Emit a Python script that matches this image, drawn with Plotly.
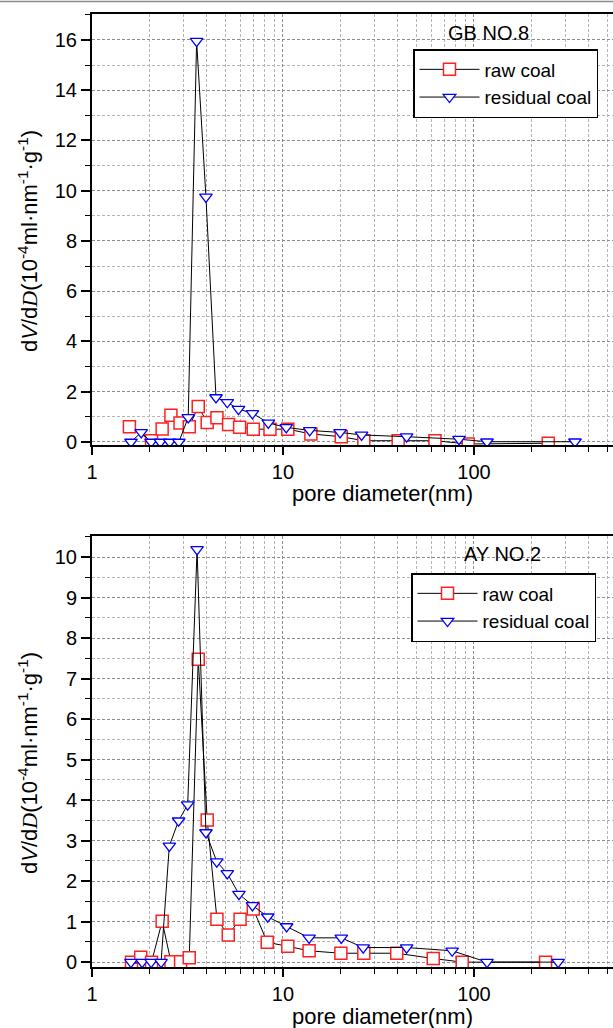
import plotly.graph_objects as go

# GB NO.8 (top panel)
gb_raw_d = [1.57, 2.05, 2.33, 2.59, 2.89, 3.23, 3.60, 4.01, 4.51, 5.19, 5.93, 6.99, 8.55, 10.6,
            14.0, 20.2, 26.5, 40.1, 62.5, 93.3, 245]
gb_raw_v = [0.61, 0.05, 0.52, 1.06, 0.76, 0.61, 1.41, 0.78, 0.96, 0.70, 0.59, 0.51, 0.51, 0.51,
            0.32, 0.21, 0.05, 0.05, 0.05, -0.08, -0.05]
gb_res_d = [1.60, 1.81, 2.04, 2.28, 2.55, 2.85, 3.19, 3.53, 3.95, 4.46, 5.11, 5.85, 6.92, 8.38,
            10.4, 13.8, 19.9, 25.8, 44.4, 83.5, 117, 338]
gb_res_v = [0.0, 0.38, 0.0, 0.0, 0.0, 0.0, 0.98, 15.95, 9.75, 1.77, 1.58, 1.31, 1.14, 0.76,
            0.58, 0.46, 0.38, 0.28, 0.21, 0.11, 0.01, 0.01]

# AY NO.2 (bottom panel)
ay_raw_d = [1.61, 1.80, 2.05, 2.33, 2.59, 2.91, 3.23, 3.60, 4.01, 4.51, 5.17, 5.96, 6.99, 8.27,
            10.6, 13.7, 20.1, 26.5, 39.4, 61.2, 86.8, 237]
ay_raw_v = [0.0, 0.12, 0.0, 1.01, 0.01, 0.01, 0.11, 7.48, 3.51, 1.06, 0.67, 1.06, 1.31, 0.49,
            0.39, 0.28, 0.22, 0.22, 0.22, 0.09, 0.0, 0.0]
ay_res_d = [1.60, 1.83, 2.04, 2.30, 2.54, 2.84, 3.17, 3.55, 3.95, 4.50, 5.11, 5.88, 6.92, 8.32,
            10.45, 13.7, 20.2, 26.3, 44.4, 76.9, 117, 276]
ay_res_v = [0.0, 0.0, 0.0, 0.0, 2.87, 3.49, 3.89, 10.19, 3.20, 2.48, 2.19, 1.68, 1.40, 1.12,
            0.88, 0.60, 0.60, 0.36, 0.36, 0.28, 0.0, 0.0]

major_x = [1, 10, 100, 1000]
minor_x = [m * 10 ** e for e in range(3) for m in range(2, 10)]

FONT = "Liberation Sans, Arial, sans-serif"
RED = "#ff2020"
BLUE = "#0000ff"

fig = go.Figure()


def add_pair(raw_d, raw_v, res_d, res_v, xa, ya, leg):
    fig.add_trace(go.Scatter(
        x=raw_d, y=raw_v, mode="lines+markers", name="raw coal",
        xaxis=xa, yaxis=ya, legend=leg,
        line=dict(color="black", width=1),
        marker=dict(symbol="square", size=12, color="white",
                    line=dict(color=RED, width=1.5)),
    ))
    fig.add_trace(go.Scatter(
        x=res_d, y=res_v, mode="lines+markers", name="residual coal",
        xaxis=xa, yaxis=ya, legend=leg,
        line=dict(color="black", width=1),
        marker=dict(symbol="triangle-down", size=11, color="white",
                    line=dict(color=BLUE, width=1.3)),
    ))


add_pair(gb_raw_d, gb_raw_v, gb_res_d, gb_res_v, "x", "y", "legend")
add_pair(ay_raw_d, ay_raw_v, ay_res_d, ay_res_v, "x2", "y2", "legend2")

H = 1028.0


def xax(anchor):
    return dict(
        type="log", range=[0, 2.728], anchor=anchor, domain=[0, 1],
        tickvals=major_x, ticktext=["1", "10", "100", "1000"],
        ticks="outside", ticklen=8, tickwidth=1.5, tickcolor="black",
        showline=True, linecolor="black", linewidth=2, mirror=True,
        showgrid=True, gridcolor="#8c8c8c", griddash="3px,2px", gridwidth=1,
        minor=dict(tickvals=minor_x, ticks="outside", ticklen=5, tickwidth=1.2,
                   tickcolor="black", showgrid=True, gridcolor="#b4b4b4",
                   griddash="3px,2px", gridwidth=1),
        tickfont=dict(family=FONT, size=20, color="black"),
        zeroline=False, automargin=False,
    )


def yax(anchor, dom, rng, dtick, mdtick):
    return dict(
        anchor=anchor, domain=dom, range=rng, dtick=dtick, tick0=0,
        ticks="outside", ticklen=9, tickwidth=1.5, tickcolor="black",
        showline=True, linecolor="black", linewidth=2, mirror=False,
        showgrid=True, gridcolor="#8c8c8c", griddash="3px,2px", gridwidth=1,
        minor=dict(dtick=mdtick, tick0=0, ticks="outside", ticklen=5, tickwidth=1.2,
                   tickcolor="black", showgrid=True, gridcolor="#b4b4b4",
                   griddash="3px,2px", gridwidth=1),
        tickfont=dict(family=FONT, size=20, color="black"),
        zeroline=False, automargin=False,
    )


ytitle = ("d<i>V</i>/d<span style='font-family:Liberation Serif'><i>D</i></span>"
          "(10<sup>-4</sup>ml·nm<sup>-1</sup>·g<sup>-1</sup>)")


def legend_at(px_x, px_y):
    return dict(
        x=(px_x - 92) / 521.0, y=1 - px_y / H, xanchor="left", yanchor="top",
        xref="paper", yref="paper",
        bordercolor="black", borderwidth=1.5, bgcolor="white",
        font=dict(family=FONT, size=19, color="black"),
        itemwidth=60, tracegroupgap=0, entrywidth=150, entrywidthmode="pixels",
    )


fig.update_layout(
    width=613, height=1028,
    margin=dict(l=92, r=0, t=0, b=0),
    paper_bgcolor="white", plot_bgcolor="white",
    showlegend=True,
    xaxis=xax("y"),
    yaxis=yax("x", [1 - 445 / H, 1 - 14 / H], [-0.12, 17.03], 2, 1),
    xaxis2=xax("y2"),
    yaxis2=yax("x2", [1 - 967 / H, 1 - 536 / H], [-0.12, 10.52], 1, 0.5),
    legend=legend_at(413, 49),
    legend2=legend_at(411, 573),
    font=dict(family=FONT, color="black"),
)

annots = [
    dict(text="GB NO.8", x=(488 - 92) / 521, y=1 - 33 / H, size=20),
    dict(text="AY NO.2", x=(502 - 92) / 521, y=1 - 554 / H, size=20),
    dict(text="pore diameter(nm)", x=(382 - 92) / 521, y=1 - 493 / H, size=22),
    dict(text="pore diameter(nm)", x=(382 - 92) / 521, y=1 - 1016 / H, size=22),
]
for a in annots:
    fig.add_annotation(text=a["text"], x=a["x"], y=a["y"], xref="paper", yref="paper",
                       xanchor="center", yanchor="middle", showarrow=False,
                       font=dict(family=FONT, size=a["size"], color="black"))

for cy in (241, 763):
    fig.add_annotation(text=ytitle, x=(28 - 92) / 521, y=1 - cy / H, xref="paper", yref="paper",
                       xanchor="center", yanchor="middle", showarrow=False, textangle=-90,
                       font=dict(family=FONT, size=22, color="black"))

# thin grey frame line along the top edge of the picture
fig.add_shape(type="line", xref="paper", yref="paper", x0=-92 / 521, x1=1, y0=1 - 1.5 / H, y1=1 - 1.5 / H,
              line=dict(color="#8a8a8a", width=1.5))

# drop the browser's default body margin so the figure sits at the page corner
fig.write_html("out.html", config={"displayModeBar": False},
               post_script="document.body.style.margin='0';")
